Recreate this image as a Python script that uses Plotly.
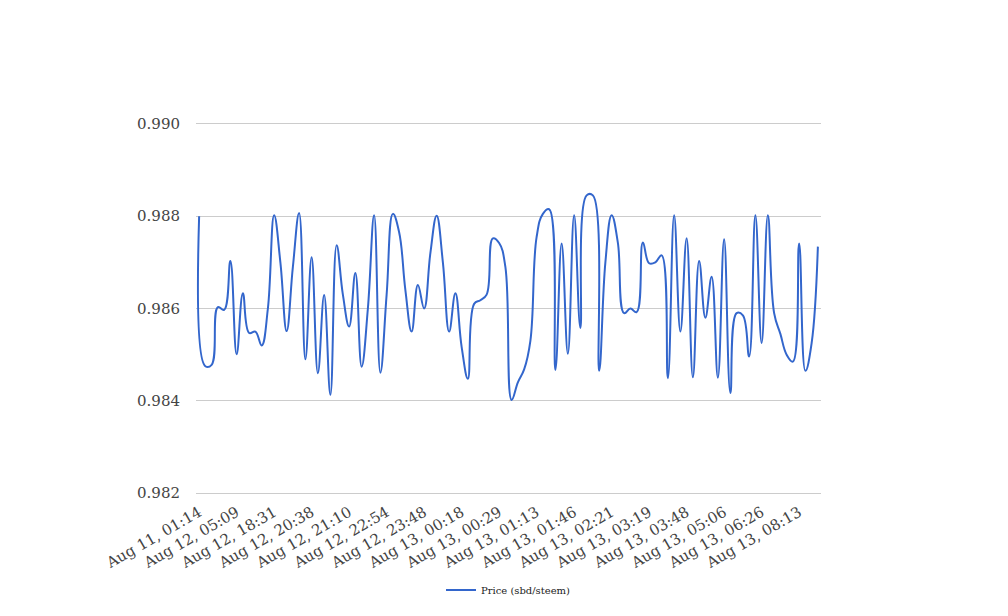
import plotly.graph_objects as go

series_name = "Price (sbd/steem)"

prices = [
    0.98800, 0.98475, 0.98478, 0.98603, 0.98597, 0.98703, 0.98501, 0.98633, 0.98547, 0.98550,
    0.98520, 0.98600, 0.98802, 0.98700, 0.98551, 0.98690, 0.98807, 0.98490, 0.98711, 0.98460,
    0.98629, 0.98413, 0.98737, 0.98630, 0.98561, 0.98677, 0.98474, 0.98600, 0.98802, 0.98461,
    0.98630, 0.98805, 0.98765, 0.98640, 0.98550, 0.98651, 0.98600, 0.98720, 0.98801, 0.98700,
    0.98550, 0.98633, 0.98517, 0.98448, 0.98610, 0.98618, 0.98630, 0.98752, 0.98742, 0.98690,
    0.98402, 0.98440, 0.98468, 0.98530, 0.98755, 0.98805, 0.98815, 0.98467, 0.98741, 0.98502,
    0.98802, 0.98558, 0.98845, 0.98845, 0.98465, 0.98700, 0.98802, 0.98742, 0.98590, 0.98600,
    0.98592, 0.98743, 0.98698, 0.98700, 0.98715, 0.98449, 0.98802, 0.98550, 0.98752, 0.98451,
    0.98703, 0.98580, 0.98669, 0.98450, 0.98750, 0.98417, 0.98590, 0.98585, 0.98496, 0.98802,
    0.98525, 0.98802, 0.98590, 0.98545, 0.98500, 0.98485, 0.98741, 0.98465, 0.98525, 0.98734,
]

point_index = list(range(len(prices)))

tick_positions = [0, 6, 12, 18, 24, 30, 36, 42, 48, 54, 60, 66, 72, 78, 84, 90, 96]
tick_labels = [
    "Aug 11, 01:14", "Aug 12, 05:09", "Aug 12, 18:31", "Aug 12, 20:38",
    "Aug 12, 21:10", "Aug 12, 22:54", "Aug 12, 23:48", "Aug 13, 00:18",
    "Aug 13, 00:29", "Aug 13, 01:13", "Aug 13, 01:46", "Aug 13, 02:21",
    "Aug 13, 03:19", "Aug 13, 03:48", "Aug 13, 05:06", "Aug 13, 06:26",
    "Aug 13, 08:13",
]

y_ticks = [0.982, 0.984, 0.986, 0.988, 0.990]

fig = go.Figure()
fig.add_trace(go.Scatter(
    x=point_index, y=prices, mode="lines", name=series_name,
    line=dict(color="#3366CC", width=2, shape="spline", smoothing=1.2),
))

fig.update_layout(
    width=1008, height=616,
    margin=dict(l=188, r=195, t=114, b=129),
    paper_bgcolor="white", plot_bgcolor="white",
    font=dict(family="DejaVu Serif", size=15, color="#444444"),
    showlegend=True,
    legend=dict(orientation="h", x=0.5, xanchor="center",
                yref="container", y=0.055, yanchor="middle",
                font=dict(size=10, color="#222222"), itemwidth=30),
    xaxis=dict(
        range=[-0.5, len(prices) - 0.5], automargin=False,
        tickmode="array", tickvals=tick_positions, ticktext=tick_labels,
        tickangle=-30, showgrid=False, zeroline=False, showline=False,
        ticks="outside", ticklen=2, tickcolor="rgba(0,0,0,0)",
    ),
    yaxis=dict(
        range=[0.98196, 0.99004], automargin=False, tickmode="array", tickvals=y_ticks,
        tickformat=".3f", showgrid=True, gridcolor="#cccccc", gridwidth=1,
        zeroline=False, showline=False,
        ticks="outside", ticklen=12, tickcolor="rgba(0,0,0,0)",
    ),
)

fig.write_html("out.html")
